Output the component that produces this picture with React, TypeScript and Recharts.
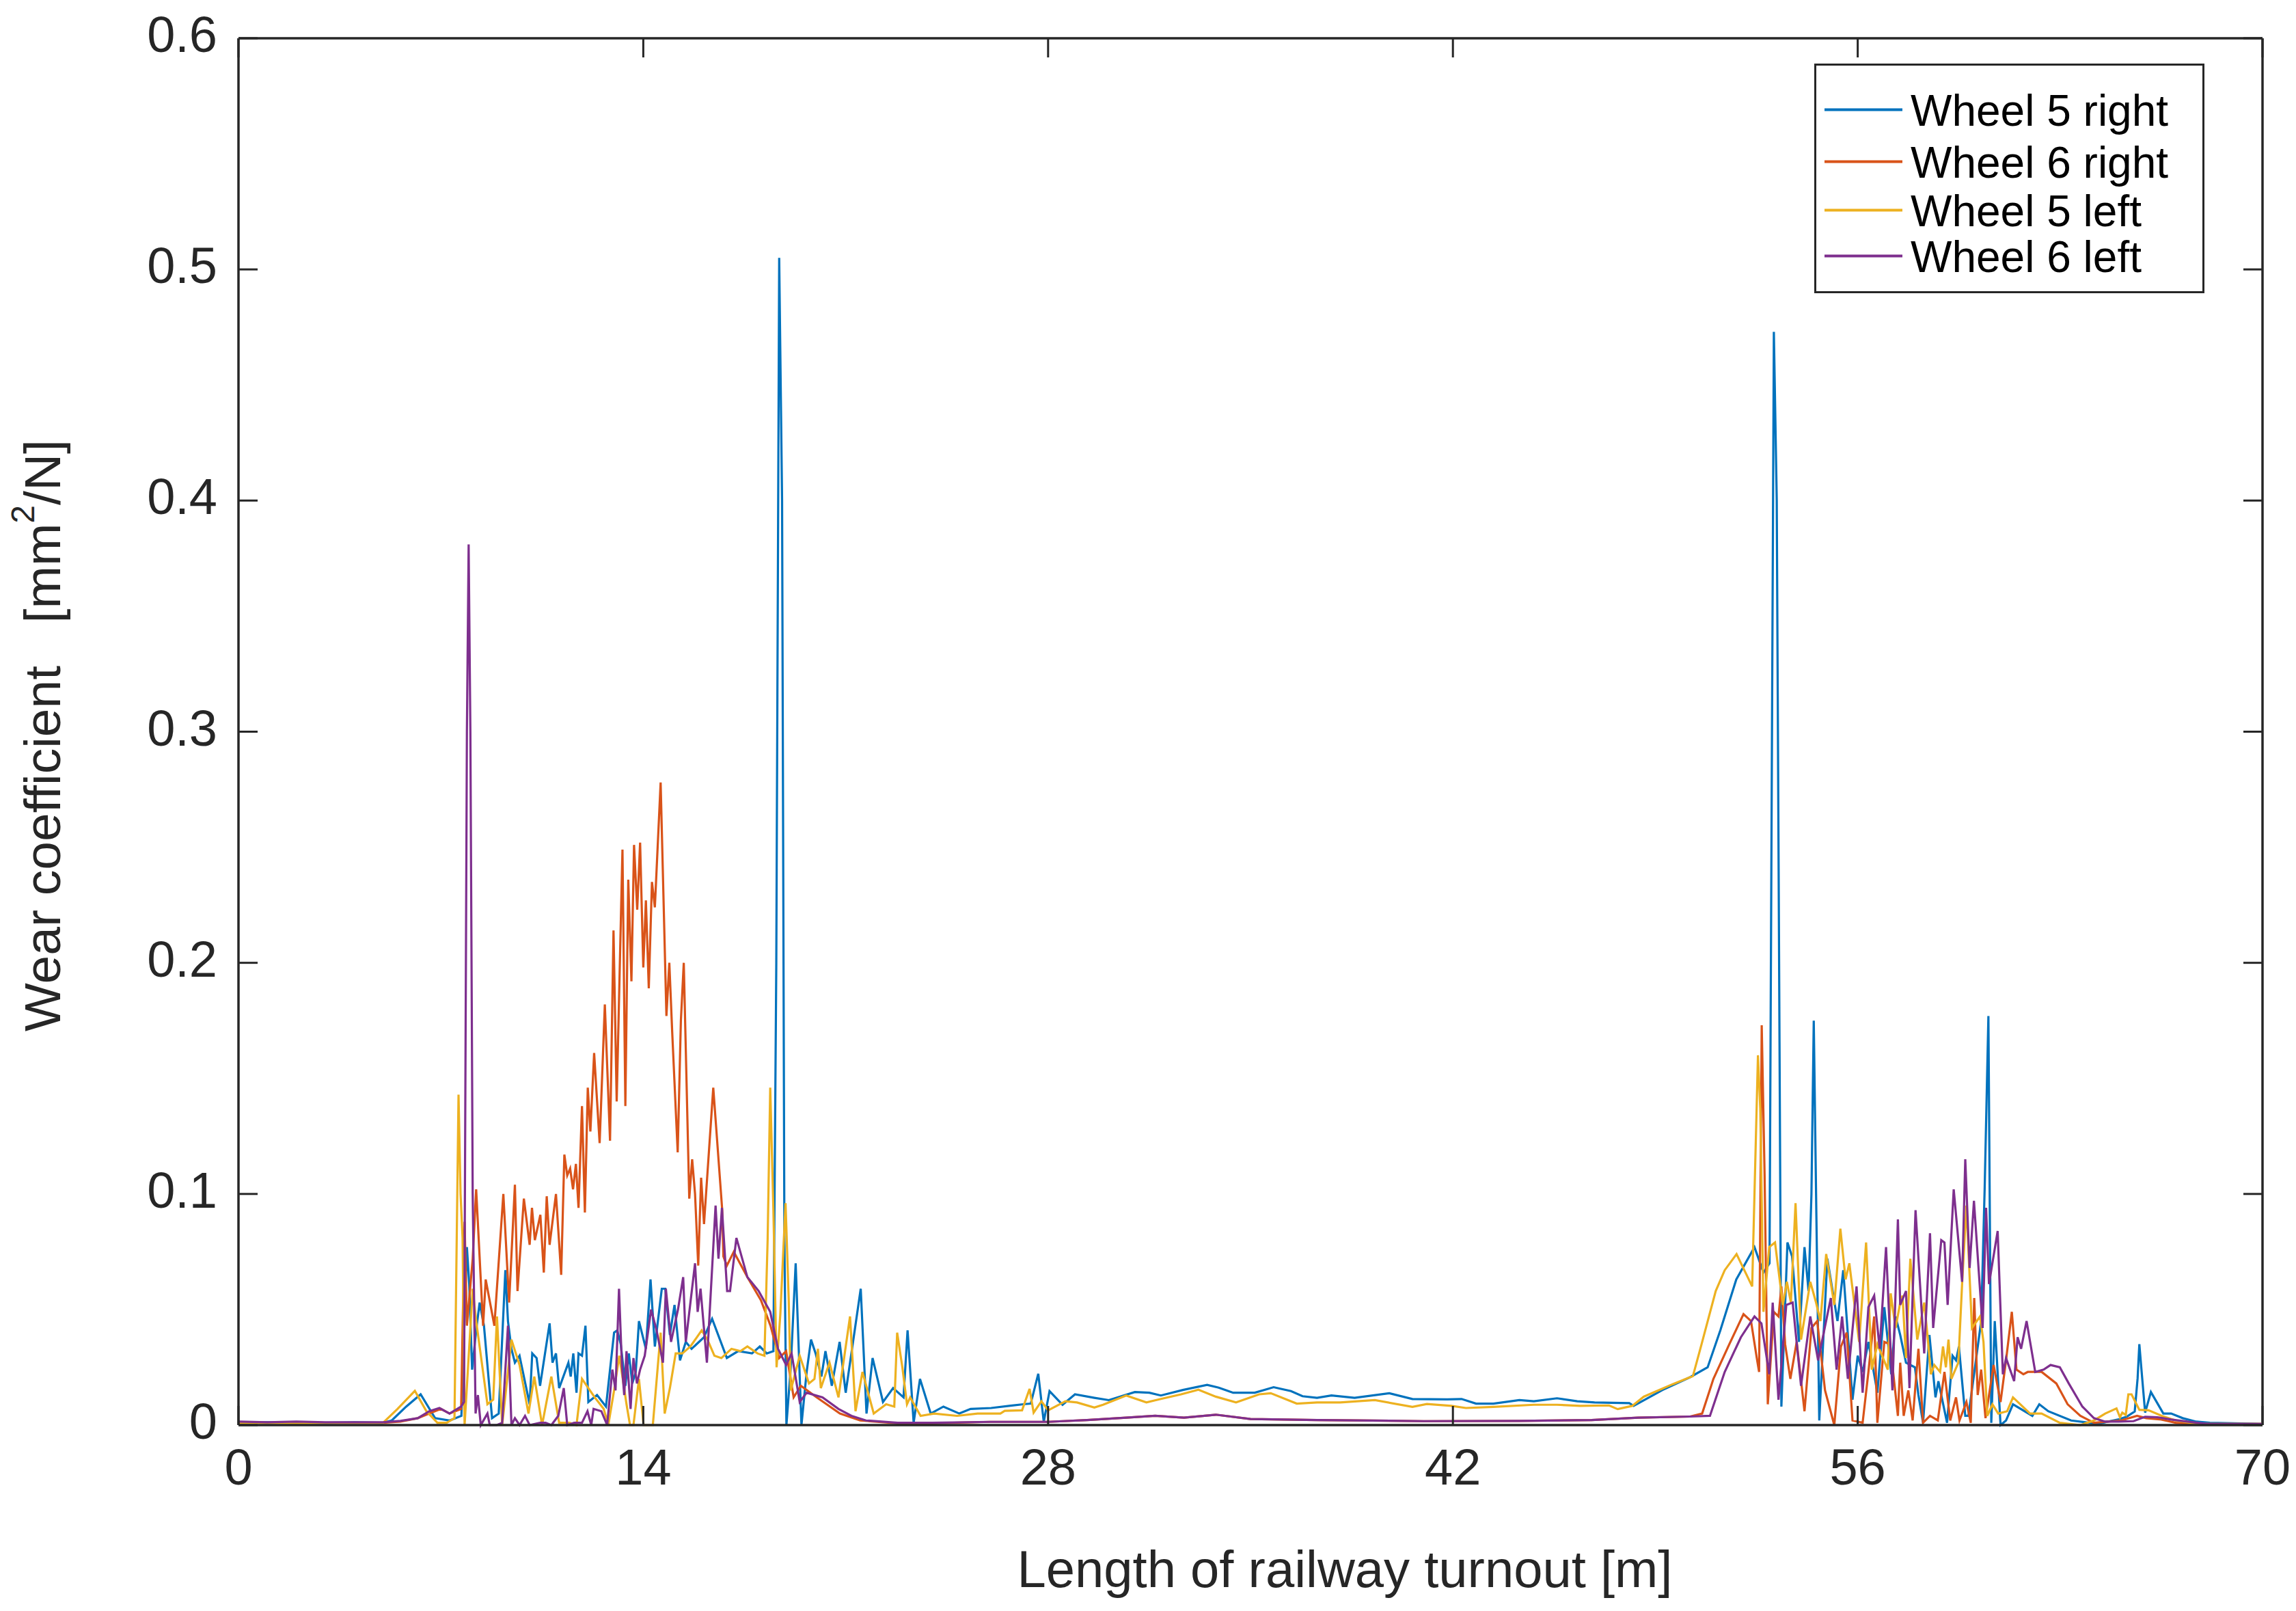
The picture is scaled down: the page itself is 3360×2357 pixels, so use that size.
import React from 'react';
import { LineChart, Line, XAxis, YAxis, Legend, ReferenceLine } from 'recharts';

// wear coefficient along the turnout, [position m, value mm²/N]
const wheel5Right: [number, number][] = [
  [0, 0.001], [1, 0.0012], [2, 0.001], [3, 0.001], [4, 0.0012], [5, 0.001], [5.3, 0.002], [5.8, 0.008],
  [6.3, 0.0133], [6.8, 0.003], [7.3, 0.002], [7.71, 0.004], [7.9, 0.077], [7.98, 0.061], [8.08, 0.024],
  [8.22, 0.041], [8.34, 0.053], [8.49, 0.043], [8.77, 0.003], [9.0, 0.005], [9.23, 0.067], [9.32, 0.045],
  [9.44, 0.033], [9.56, 0.027], [9.72, 0.03], [10.07, 0.009], [10.16, 0.031], [10.31, 0.029], [10.43, 0.017],
  [10.76, 0.044], [10.86, 0.027], [10.98, 0.031], [11.09, 0.016], [11.41, 0.027], [11.49, 0.021], [11.58, 0.031],
  [11.69, 0.014], [11.76, 0.031], [11.88, 0.03], [12.0, 0.043], [12.1, 0.01], [12.4, 0.013], [12.71, 0.008],
  [12.99, 0.04], [13.1, 0.041], [13.22, 0.035], [13.38, 0.017], [13.5, 0.031], [13.62, 0.018], [13.74, 0.023],
  [13.85, 0.045], [14.09, 0.033], [14.25, 0.063], [14.4, 0.034], [14.64, 0.059], [14.76, 0.059], [14.92, 0.039],
  [15.08, 0.052], [15.27, 0.028], [15.47, 0.036], [15.67, 0.033], [16.1, 0.038], [16.38, 0.046], [16.89, 0.029],
  [17.28, 0.032], [17.76, 0.031], [18.03, 0.034], [18.27, 0.031], [18.5, 0.032], [18.6, 0.2], [18.7, 0.505],
  [18.8, 0.4], [18.88, 0.08], [18.95, 0.0], [19.1, 0.025], [19.27, 0.07], [19.47, 0.0], [19.65, 0.023],
  [19.8, 0.037], [19.96, 0.031], [20.16, 0.021], [20.3, 0.032], [20.52, 0.017], [20.79, 0.036], [21.0, 0.014],
  [21.52, 0.059], [21.72, 0.005], [21.93, 0.029], [22.29, 0.01], [22.64, 0.016], [23.0, 0.012], [23.14, 0.041],
  [23.35, 0.001], [23.57, 0.02], [23.94, 0.005], [24.38, 0.008], [24.93, 0.005], [25.32, 0.007], [26.03, 0.0074],
  [26.7, 0.0084], [27.2, 0.0091], [27.4, 0.0093], [27.66, 0.0222], [27.85, 0.0014], [28.05, 0.0147], [28.5, 0.0088],
  [28.93, 0.0133], [29.6, 0.0118], [30.1, 0.0108], [31.0, 0.0143], [31.5, 0.014], [31.9, 0.0128], [32.66, 0.0152],
  [33.5, 0.0174], [33.9, 0.0162], [34.4, 0.014], [35.15, 0.014], [35.8, 0.0164], [36.4, 0.0147], [36.8, 0.0125],
  [37.3, 0.0118], [37.8, 0.0128], [38.6, 0.0118], [39.8, 0.0138], [40.6, 0.0113], [41.8, 0.0111], [42.3, 0.0113],
  [42.8, 0.0093], [43.4, 0.0093], [44.3, 0.0108], [44.8, 0.0103], [45.6, 0.0116], [46.3, 0.0103], [46.9, 0.0098],
  [48.1, 0.0095], [48.25, 0.0083], [49.25, 0.0152], [50.2, 0.0207], [50.81, 0.025], [51.25, 0.041], [51.8, 0.063],
  [52.43, 0.077], [52.74, 0.066], [52.95, 0.07], [53.1, 0.473], [53.2, 0.4], [53.36, 0.008], [53.57, 0.079],
  [53.73, 0.073], [53.97, 0.036], [54.16, 0.077], [54.3, 0.058], [54.4, 0.1], [54.48, 0.175], [54.56, 0.1],
  [54.67, 0.002], [54.95, 0.072], [55.3, 0.045], [55.5, 0.067], [55.82, 0.011], [56.0, 0.03], [56.17, 0.023],
  [56.37, 0.036], [56.68, 0.014], [56.92, 0.051], [57.16, 0.022], [57.31, 0.047], [57.47, 0.039], [57.67, 0.027],
  [57.98, 0.025], [58.1, 0.013], [58.26, 0.001], [58.48, 0.039], [58.69, 0.012], [58.79, 0.019], [59.09, 0.001],
  [59.28, 0.03], [59.4, 0.028], [59.5, 0.034], [59.72, 0.004], [59.83, 0.004], [60.27, 0.045], [60.39, 0.102],
  [60.52, 0.177], [60.62, 0.001], [60.74, 0.045], [60.94, 0.0], [61.13, 0.002], [61.37, 0.009], [62.04, 0.004],
  [62.28, 0.009], [62.59, 0.006], [63.38, 0.002], [64.32, 0.0005], [64.72, 0.0017], [65.03, 0.0025], [65.3, 0.0036],
  [65.58, 0.0059], [65.68, 0.0202], [65.74, 0.035], [65.8, 0.026], [65.94, 0.0054], [66.14, 0.0143], [66.57, 0.005],
  [66.84, 0.005], [67.24, 0.003], [67.71, 0.0015], [68.18, 0.001], [70, 0.0005],
];

const wheel6Right: [number, number][] = [
  [0, 0.0012], [1, 0.001], [2, 0.0012], [3, 0.001], [4, 0.001], [5, 0.001], [5.6, 0.0015], [6.2, 0.003],
  [6.6, 0.005], [7.0, 0.007], [7.3, 0.005], [7.7, 0.007], [7.82, 0.088], [7.9, 0.043], [8.1, 0.072], [8.22, 0.102],
  [8.46, 0.043], [8.55, 0.063], [8.85, 0.043], [9.16, 0.1], [9.36, 0.053], [9.56, 0.104], [9.65, 0.058],
  [9.87, 0.098], [10.07, 0.078], [10.15, 0.094], [10.25, 0.08], [10.44, 0.091], [10.56, 0.066], [10.66, 0.099],
  [10.76, 0.078], [10.98, 0.1], [11.16, 0.065], [11.27, 0.117], [11.37, 0.108], [11.47, 0.111], [11.57, 0.102],
  [11.67, 0.113], [11.76, 0.094], [11.88, 0.138], [11.98, 0.092], [12.08, 0.146], [12.17, 0.127], [12.3, 0.161],
  [12.49, 0.122], [12.67, 0.182], [12.85, 0.123], [12.97, 0.214], [13.08, 0.14], [13.28, 0.249], [13.38, 0.138],
  [13.48, 0.236], [13.59, 0.192], [13.68, 0.251], [13.79, 0.223], [13.89, 0.252], [14.0, 0.198], [14.09, 0.227],
  [14.19, 0.189], [14.3, 0.235], [14.4, 0.224], [14.6, 0.278], [14.8, 0.177], [14.9, 0.2], [15.0, 0.17],
  [15.19, 0.118], [15.3, 0.175], [15.4, 0.2], [15.59, 0.098], [15.69, 0.115], [15.79, 0.1], [15.9, 0.069],
  [16.0, 0.107], [16.1, 0.087], [16.42, 0.146], [16.73, 0.093], [16.77, 0.073], [16.89, 0.069], [17.13, 0.075],
  [17.6, 0.064], [18.07, 0.054], [18.4, 0.043], [18.7, 0.029], [18.94, 0.032], [19.2, 0.012], [19.45, 0.017],
  [20.0, 0.012], [20.8, 0.005], [21.5, 0.002], [22.8, 0.0008], [24, 0.0008], [26, 0.0014], [28, 0.0014],
  [29.35, 0.0022], [30.7, 0.0032], [31.7, 0.004], [32.7, 0.0032], [33.8, 0.0045], [35.0, 0.0026], [37.3, 0.0022],
  [41, 0.0017], [44.3, 0.0018], [46.8, 0.0022], [48.4, 0.0032], [50.2, 0.0037], [50.62, 0.005], [51.01, 0.02],
  [51.56, 0.035], [52.05, 0.048], [52.31, 0.045], [52.51, 0.029], [52.59, 0.023], [52.68, 0.173], [52.78, 0.108],
  [52.89, 0.009], [53.1, 0.049], [53.26, 0.047], [53.36, 0.06], [53.49, 0.035], [53.67, 0.02], [53.89, 0.036],
  [54.16, 0.006], [54.4, 0.042], [54.6, 0.045], [54.87, 0.015], [55.19, 0.0], [55.42, 0.034], [55.62, 0.04],
  [55.82, 0.002], [56.17, 0.001], [56.37, 0.023], [56.57, 0.047], [56.68, 0.001], [56.92, 0.036], [57.12, 0.035],
  [57.39, 0.004], [57.47, 0.027], [57.59, 0.004], [57.75, 0.015], [57.9, 0.002], [58.1, 0.033], [58.26, 0.001],
  [58.5, 0.004], [58.77, 0.002], [59.0, 0.023], [59.2, 0.002], [59.4, 0.012], [59.52, 0.002], [59.76, 0.01],
  [59.91, 0.001], [60.03, 0.055], [60.15, 0.013], [60.27, 0.024], [60.42, 0.003], [60.7, 0.026], [60.94, 0.01],
  [61.13, 0.028], [61.33, 0.049], [61.49, 0.024], [61.73, 0.022], [61.88, 0.023], [62.36, 0.023], [62.87, 0.018],
  [63.26, 0.009], [63.7, 0.004], [64.17, 0.001], [64.64, 0.0015], [65.11, 0.002], [65.66, 0.004], [65.98, 0.003],
  [66.45, 0.0025], [67.0, 0.001], [67.63, 0.0005], [70, 0.0005],
];

const wheel5Left: [number, number][] = [
  [0, 0.0008], [1, 0.001], [2, 0.0008], [3, 0.001], [4, 0.001], [5.0, 0.001], [5.5, 0.007], [6.1, 0.0148],
  [6.5, 0.006], [6.88, 0.001], [7.2, 0.001], [7.47, 0.003], [7.61, 0.143], [7.68, 0.1], [7.75, 0.081], [7.82, 0.0],
  [8.1, 0.059], [8.22, 0.045], [8.61, 0.009], [8.81, 0.011], [8.94, 0.047], [9.12, 0.0], [9.44, 0.037],
  [9.72, 0.026], [10.03, 0.005], [10.23, 0.021], [10.5, 0.0], [10.82, 0.021], [11.09, 0.001], [11.45, 0.001],
  [11.69, 0.0], [11.88, 0.02], [12.32, 0.012], [12.63, 0.007], [12.79, 0.0], [12.99, 0.015], [13.17, 0.03],
  [13.42, 0.009], [13.54, 0.0], [13.66, 0.0], [13.85, 0.02], [14.01, 0.0], [14.33, 0.0], [14.6, 0.04],
  [14.74, 0.005], [14.92, 0.016], [15.12, 0.031], [15.35, 0.031], [15.63, 0.034], [16.02, 0.041], [16.22, 0.037],
  [16.46, 0.03], [16.7, 0.029], [17.05, 0.033], [17.36, 0.032], [17.6, 0.034], [17.95, 0.031], [18.19, 0.03],
  [18.3, 0.08], [18.39, 0.146], [18.5, 0.093], [18.61, 0.025], [18.74, 0.048], [18.92, 0.096], [19.03, 0.054],
  [19.1, 0.015], [19.41, 0.03], [19.73, 0.018], [19.92, 0.02], [20.04, 0.033], [20.14, 0.016], [20.44, 0.027],
  [20.75, 0.012], [21.15, 0.047], [21.34, 0.006], [21.58, 0.023], [21.97, 0.005], [22.4, 0.009], [22.68, 0.008],
  [22.78, 0.04], [22.96, 0.025], [23.12, 0.009], [23.23, 0.012], [23.59, 0.004], [24.06, 0.005], [24.85, 0.004],
  [25.56, 0.005], [26.35, 0.005], [26.5, 0.0062], [27.1, 0.0064], [27.36, 0.0157], [27.5, 0.0054], [27.77, 0.0103],
  [28.0, 0.0064], [28.6, 0.0103], [29.0, 0.0098], [29.6, 0.0076], [29.9, 0.0088], [30.7, 0.0128], [31.4, 0.0098],
  [31.9, 0.0113], [32.6, 0.0133], [33.2, 0.0153], [33.8, 0.0123], [34.5, 0.0098], [35.3, 0.0133], [35.7, 0.0138],
  [36.6, 0.0093], [37.3, 0.0098], [38.1, 0.0098], [39.3, 0.0108], [40.6, 0.0079], [41.1, 0.0091], [41.95, 0.0083],
  [42.45, 0.0074], [43.4, 0.0079], [44.8, 0.0088], [45.6, 0.0088], [46.4, 0.0083], [47.4, 0.0085], [47.7, 0.0069],
  [48.2, 0.0083], [48.6, 0.0123], [49.6, 0.0177], [50.3, 0.0212], [50.6, 0.035], [51.09, 0.058], [51.4, 0.067],
  [51.81, 0.074], [52.35, 0.06], [52.47, 0.12], [52.55, 0.16], [52.63, 0.137], [52.74, 0.049], [52.94, 0.077],
  [53.14, 0.079], [53.41, 0.052], [53.55, 0.062], [53.69, 0.053], [53.85, 0.096], [54.04, 0.037], [54.36, 0.062],
  [54.56, 0.053], [54.71, 0.045], [54.91, 0.074], [55.19, 0.052], [55.4, 0.085], [55.58, 0.063], [55.71, 0.07],
  [56.05, 0.036], [56.29, 0.079], [56.49, 0.024], [56.68, 0.035], [57.04, 0.024], [57.14, 0.057], [57.31, 0.042],
  [57.47, 0.053], [57.55, 0.056], [57.67, 0.029], [57.82, 0.072], [58.06, 0.037], [58.3, 0.053], [58.42, 0.038],
  [58.53, 0.022], [58.65, 0.026], [58.85, 0.023], [58.95, 0.034], [59.05, 0.025], [59.14, 0.037], [59.24, 0.02],
  [59.48, 0.027], [59.61, 0.061], [59.76, 0.095], [59.95, 0.042], [60.23, 0.047], [60.35, 0.036], [60.48, 0.004],
  [60.66, 0.009], [60.86, 0.005], [61.17, 0.006], [61.37, 0.012], [61.96, 0.005], [62.36, 0.005], [62.99, 0.001],
  [63.7, 0.0], [64.17, 0.002], [64.56, 0.005], [64.95, 0.0072], [65.07, 0.0034], [65.15, 0.0054], [65.27, 0.0044],
  [65.36, 0.0133], [65.47, 0.0133], [65.74, 0.0066], [66.06, 0.0064], [66.53, 0.0039], [67.0, 0.002],
  [67.79, 0.0005], [70, 0.0005],
];

const wheel6Left: [number, number][] = [
  [0, 0.0015], [1, 0.0012], [2, 0.0015], [3, 0.0012], [4, 0.0012], [5, 0.0012], [5.6, 0.0018], [6.2, 0.003],
  [6.6, 0.006], [6.95, 0.0074], [7.3, 0.005], [7.7, 0.008], [7.8, 0.01], [7.9, 0.3], [7.96, 0.381], [8.02, 0.3],
  [8.1, 0.1], [8.2, 0.005], [8.28, 0.013], [8.38, 0.0], [8.61, 0.005], [8.69, 0.0], [8.93, 0.0], [9.12, 0.001],
  [9.32, 0.043], [9.44, 0.0], [9.56, 0.003], [9.72, 0.0], [9.91, 0.004], [10.07, 0.0], [10.43, 0.001],
  [10.62, 0.001], [10.82, 0.0], [11.06, 0.004], [11.25, 0.016], [11.37, 0.0], [11.61, 0.001], [11.88, 0.001],
  [12.07, 0.006], [12.2, 0.0], [12.28, 0.007], [12.55, 0.006], [12.75, 0.0], [12.93, 0.024], [13.04, 0.015],
  [13.16, 0.059], [13.26, 0.026], [13.34, 0.013], [13.42, 0.032], [13.56, 0.007], [13.66, 0.029], [13.78, 0.018],
  [13.89, 0.024], [14.05, 0.03], [14.27, 0.05], [14.46, 0.041], [14.68, 0.027], [14.78, 0.059], [14.96, 0.036],
  [15.2, 0.05], [15.38, 0.064], [15.47, 0.036], [15.79, 0.07], [15.88, 0.049], [15.98, 0.059], [16.2, 0.027],
  [16.5, 0.095], [16.6, 0.072], [16.72, 0.094], [16.9, 0.058], [17.0, 0.058], [17.22, 0.081], [17.6, 0.064],
  [17.99, 0.058], [18.39, 0.049], [18.66, 0.033], [18.94, 0.026], [19.13, 0.031], [19.41, 0.01], [19.65, 0.014],
  [20.2, 0.012], [20.75, 0.007], [21.2, 0.004], [21.7, 0.002], [22.8, 0.001], [24, 0.001], [26, 0.0014],
  [28, 0.0014], [29.35, 0.0022], [30.7, 0.0032], [31.7, 0.004], [32.7, 0.0032], [33.8, 0.0045], [35.0, 0.0026],
  [37.3, 0.0022], [41, 0.0017], [44.3, 0.0018], [46.8, 0.0022], [48.4, 0.0032], [50.2, 0.0037], [50.89, 0.004],
  [51.4, 0.023], [51.96, 0.038], [52.43, 0.047], [52.67, 0.044], [52.94, 0.022], [53.06, 0.053], [53.26, 0.011],
  [53.53, 0.052], [53.75, 0.053], [54.04, 0.017], [54.36, 0.047], [54.63, 0.028], [55.07, 0.055], [55.27, 0.024],
  [55.46, 0.047], [55.66, 0.02], [55.96, 0.06], [56.17, 0.014], [56.37, 0.051], [56.57, 0.056], [56.76, 0.033],
  [56.98, 0.077], [57.2, 0.015], [57.39, 0.089], [57.47, 0.052], [57.67, 0.058], [57.79, 0.016], [58.0, 0.093],
  [58.3, 0.031], [58.5, 0.083], [58.61, 0.042], [58.89, 0.08], [59.0, 0.079], [59.11, 0.052], [59.32, 0.102],
  [59.61, 0.062], [59.72, 0.115], [59.87, 0.068], [60.02, 0.097], [60.32, 0.042], [60.44, 0.094], [60.54, 0.061],
  [60.84, 0.084], [61.02, 0.022], [61.13, 0.029], [61.41, 0.019], [61.53, 0.038], [61.65, 0.033], [61.84, 0.045],
  [62.14, 0.023], [62.43, 0.024], [62.67, 0.026], [62.99, 0.025], [63.3, 0.018], [63.77, 0.008], [64.17, 0.003],
  [64.56, 0.0015], [65.03, 0.0015], [65.54, 0.0017], [65.94, 0.0036], [66.37, 0.0034], [66.84, 0.0024],
  [67.4, 0.0015], [68.1, 0.0005], [70, 0.0005],
];

const xTicks = [0, 14, 28, 42, 56, 70];
const yTicks = [0, 0.1, 0.2, 0.3, 0.4, 0.5, 0.6];

const seriesNames = ['Wheel 5 right', 'Wheel 6 right', 'Wheel 5 left', 'Wheel 6 left'];
const seriesColors = ['#0072BD', '#D95319', '#EDB120', '#7E2F8E'];

const W = 3360;
const H = 2357;
const PLOT_LEFT = 349;
const PLOT_RIGHT = 3311;
const PLOT_TOP = 56;
const PLOT_BOTTOM = 2085;
const TICK_LEN = 28;
const INK = '#262626';
const FONT = '"Liberation Sans", Arial, Helvetica, sans-serif';

const toPoints = (rows: [number, number][]) => rows.map(([x, y]) => ({ x, y }));

const XTick = ({ x, payload }: any) => (
  <g>
    <line x1={x} y1={PLOT_BOTTOM} x2={x} y2={PLOT_BOTTOM - TICK_LEN} stroke={INK} strokeWidth={3} />
    <line x1={x} y1={PLOT_TOP} x2={x} y2={PLOT_TOP + TICK_LEN} stroke={INK} strokeWidth={3} />
    <text x={x} y={PLOT_BOTTOM + 87} textAnchor="middle" fontSize={74} fill={INK} fontFamily={FONT}>
      {payload.value}
    </text>
  </g>
);

const YTick = ({ y, payload }: any) => (
  <g>
    <line x1={PLOT_LEFT} y1={y} x2={PLOT_LEFT + TICK_LEN} y2={y} stroke={INK} strokeWidth={3} />
    <line x1={PLOT_RIGHT} y1={y} x2={PLOT_RIGHT - TICK_LEN} y2={y} stroke={INK} strokeWidth={3} />
    <text x={PLOT_LEFT - 31} y={y + 20} textAnchor="end" fontSize={74} fill={INK} fontFamily={FONT}>
      {String(Math.round(payload.value * 10) / 10)}
    </text>
  </g>
);

const XLabel = () => (
  <text x={1968} y={2322} textAnchor="middle" fontSize={76} fill={INK} fontFamily={FONT}>
    Length of railway turnout [m]
  </text>
);

const YLabel = () => (
  <text
    x={88}
    y={1076}
    transform="rotate(-90, 88, 1076)"
    textAnchor="middle"
    fontSize={75}
    fill={INK}
    fontFamily={FONT}
    style={{ whiteSpace: 'pre' }}
  >
    {'Wear coefficient   [mm'}
    <tspan dy={-38} fontSize={48}>2</tspan>
    <tspan dy={38}>/N]</tspan>
  </text>
);

// legend rows sit at the same spacing as the boxed MATLAB legend
const ROW_Y = [68, 144, 215, 282];

const BoxLegend = ({ payload }: any) => (
  <div
    style={{
      width: 571,
      height: 336,
      boxSizing: 'border-box',
      border: `3.5px solid ${INK}`,
      background: '#fff',
    }}
  >
    <svg width={564} height={329} style={{ display: 'block' }}>
      {(payload || []).map((entry: any, i: number) => {
        const cy = ROW_Y[i] - 3.5;
        return (
          <g key={`legend-${i}`}>
            <line x1={12} y1={cy} x2={126} y2={cy} stroke={entry.color} strokeWidth={4} />
            <text x={138} y={cy + 23} fontSize={64} fill="#000" fontFamily={FONT}>
              {entry.value}
            </text>
          </g>
        );
      })}
    </svg>
  </div>
);

export default function App() {
  const series = [wheel5Right, wheel6Right, wheel5Left, wheel6Left];
  return (
    <div style={{ width: W, height: H, background: '#fff', fontFamily: FONT }}>
      <style>{'body { margin: 0; }'}</style>
      <LineChart width={W} height={H} margin={{ top: PLOT_TOP, right: W - PLOT_RIGHT, bottom: 0, left: 0 }}>
        <XAxis
          type="number"
          dataKey="x"
          domain={[0, 70]}
          ticks={xTicks}
          interval={0}
          height={H - PLOT_BOTTOM}
          tickSize={0}
          tickMargin={0}
          tick={<XTick />}
          axisLine={{ stroke: INK, strokeWidth: 3.5 }}
          tickLine={false}
          label={<XLabel />}
        />
        <YAxis
          type="number"
          domain={[0, 0.6]}
          ticks={yTicks}
          interval={0}
          width={PLOT_LEFT}
          tickSize={0}
          tickMargin={0}
          tick={<YTick />}
          axisLine={{ stroke: INK, strokeWidth: 3.5 }}
          tickLine={false}
          label={<YLabel />}
        />
        <ReferenceLine y={0.6} stroke={INK} strokeWidth={3.5} />
        <ReferenceLine x={70} stroke={INK} strokeWidth={3.5} />
        {series.map((rows, i) => (
          <Line
            key={seriesNames[i]}
            data={toPoints(rows)}
            dataKey="y"
            name={seriesNames[i]}
            type="linear"
            stroke={seriesColors[i]}
            strokeWidth={3.2}
            dot={false}
            activeDot={false}
            isAnimationActive={false}
          />
        ))}
        <Legend
          layout="vertical"
          align="center"
          verticalAlign="middle"
          itemSorter={(item: any) => seriesNames.indexOf(item.value)}
          content={<BoxLegend />}
          wrapperStyle={{ position: 'absolute', left: 2655, top: 93, width: 571, height: 336 }}
        />
      </LineChart>
    </div>
  );
}
